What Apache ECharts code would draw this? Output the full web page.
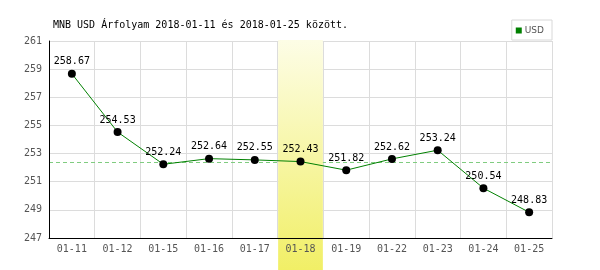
<!DOCTYPE html>
<html><head><meta charset="utf-8">
<script src="https://cdn.jsdelivr.net/npm/echarts@6/dist/echarts.min.js"></script>
<style>html,body{margin:0;padding:0;background:#fff}#c{width:600px;height:270px}</style>
</head><body><div id="c"></div>
<script>
const categories = ['01-11','01-12','01-15','01-16','01-17','01-18','01-19','01-22','01-23','01-24','01-25'];
const usdValues = [258.67,254.53,252.24,252.64,252.55,252.43,251.82,252.62,253.24,250.54,248.83];
const yTickBase = 247;
const yTickTop = 261;
const yTickStep = 2;
const highlightIndex = 5;
const titleText = 'MNB USD Árfolyam 2018-01-11 és 2018-01-25 között.';
const seriesName = 'USD';

const mono = 'DejaVu Sans Mono';
const chart = echarts.init(document.getElementById('c'));
const shifted = usdValues.map(v => +(v - yTickBase).toFixed(4));
const refValue = usdValues[highlightIndex] - yTickBase;
const gridColor = '#dcdcdc';

const yRange = { type: 'value', min: 0, max: yTickTop - yTickBase, interval: yTickStep };

chart.setOption({
  animation: false,
  title: { text: titleText, left: 48, top: 15,
    textStyle: { fontFamily: mono, fontSize: 10, fontWeight: 'normal', color: '#000' } },
  legend: {
    right: 48, top: 20, width: 41, height: 20,
    padding: [6, 8, 5, 4],
    borderColor: '#d8d8d8', borderWidth: 1,
    itemWidth: 6, itemHeight: 6, itemGap: 3,
    data: [{ name: seriesName, icon: 'rect', itemStyle: { color: '#008000' } }],
    textStyle: { fontFamily: 'DejaVu Sans', fontSize: 9, color: '#555', padding: [0,0,0,-2] },
    selectedMode: false
  },
  grid: { left: 49, right: 48, top: 41, bottom: 32, containLabel: false },
  xAxis: [
    {
      type: 'category', data: categories, boundaryGap: true, z: 0,
      axisLine: { show: false }, axisTick: { show: false }, axisLabel: { show: false },
      splitLine: { show: true, lineStyle: { color: gridColor, width: 1 } }
    },
    {
      type: 'category', data: categories, boundaryGap: true, position: 'bottom', z: 5,
      axisLine: { show: true, lineStyle: { color: '#000', width: 1 } },
      axisTick: { show: false },
      axisLabel: { fontFamily: mono, fontSize: 10, color: '#555', margin: 6 },
      splitLine: { show: false }
    }
  ],
  yAxis: [
    Object.assign({}, yRange, {
      z: 0,
      axisLine: { show: false }, axisTick: { show: false }, axisLabel: { show: false },
      splitLine: { show: true, lineStyle: { color: gridColor, width: 1 } }
    }),
    Object.assign({}, yRange, {
      z: 5, position: 'left',
      axisLine: { show: true, lineStyle: { color: '#000', width: 1 } },
      axisTick: { show: false },
      axisLabel: { fontFamily: mono, fontSize: 10, color: '#555', margin: 7,
        formatter: v => String(v + yTickBase) },
      splitLine: { show: false }
    })
  ],
  series: [
    {
      name: seriesName, type: 'line', data: shifted, z: 3, xAxisIndex: 0, yAxisIndex: 0,
      lineStyle: { color: '#008000', width: 1 },
      itemStyle: { color: '#000' },
      symbol: 'circle', symbolSize: 8,
      label: { show: true, position: 'top', distance: 3,
        fontFamily: mono, fontSize: 10, color: '#000',
        formatter: p => usdValues[p.dataIndex].toFixed(2) }
    }
  ]
});

const x0 = chart.convertToPixel({ xAxisIndex: 0 }, highlightIndex);
const x1 = chart.convertToPixel({ xAxisIndex: 0 }, highlightIndex + 1);
const xm1 = chart.convertToPixel({ xAxisIndex: 0 }, highlightIndex - 1);
const bw = (x1 - xm1) / 2;
const yTop = chart.convertToPixel({ yAxisIndex: 0 }, yTickTop - yTickBase);
const yRef = Math.round(chart.convertToPixel({ yAxisIndex: 0 }, refValue)) + 0.5;
const xFirst = chart.convertToPixel({ xAxisIndex: 0 }, 0);
const xLast = chart.convertToPixel({ xAxisIndex: 0 }, categories.length - 1);
chart.setOption({
  graphic: [
    {
      type: 'line', z: 0, silent: true,
      shape: { x1: xFirst - bw / 2, y1: yRef, x2: xLast + bw / 2, y2: yRef },
      style: { stroke: '#80cc80', lineWidth: 1, lineDash: [4, 3] }
    },
    {
      type: 'rect', z: 1, silent: true,
      shape: { x: x0 - bw / 2 + 0.5, y: yTop - 1, width: bw - 1, height: 270 - yTop + 1 },
      style: { fill: new echarts.graphic.LinearGradient(0, 0, 0, 1, [
        { offset: 0, color: '#fdfde6' }, { offset: 1, color: '#f1ef66' }]) }
    }
  ]
});
</script></body></html>
